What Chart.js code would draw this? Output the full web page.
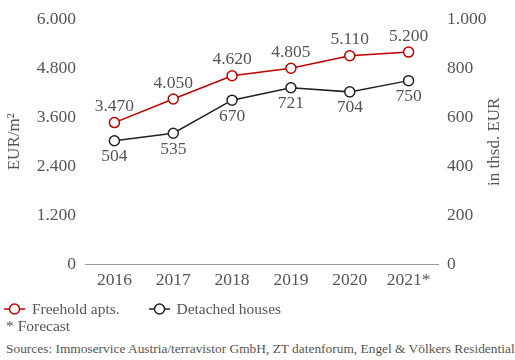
<!DOCTYPE html>
<html>
<head>
<meta charset="utf-8">
<script src="https://cdn.jsdelivr.net/npm/chart.js@4"></script>
<style>
    body { margin: 0; background: #fff; font-family: "Liberation Serif", serif; color: #555; }
    #wrap { position: relative; width: 515px; height: 360px; }
    #chart-box { position: absolute; left: 0; top: 0; width: 515px; height: 300px; }
    .legend { position: absolute; top: 299px; left: 4px; font-size: 15.5px; white-space: nowrap; }
    .legend span { display: inline-block; vertical-align: middle; }
    .legend svg { vertical-align: middle; }
    .note { position: absolute; top: 317px; left: 6px; font-size: 15.5px; }
    .sources { position: absolute; top: 341px; left: 6px; font-size: 13.4px; white-space: nowrap; }
</style>
</head>
<body>
<div id="wrap">
    <div id="chart-box"><canvas id="price-chart" width="515" height="300"></canvas></div>
    <div class="legend">
        <svg width="21" height="12"><line x1="0" y1="6" x2="21" y2="6" stroke="#c00000" stroke-width="1.5"/><circle cx="10.5" cy="6" r="5" fill="#fff" stroke="#c00000" stroke-width="1.5"/></svg>
        <span style="margin-left:3px">Freehold apts.</span>
        <svg width="21" height="12" style="margin-left:25px"><line x1="0" y1="6" x2="21" y2="6" stroke="#222" stroke-width="1.5"/><circle cx="10.5" cy="6" r="5" fill="#fff" stroke="#222" stroke-width="1.5"/></svg>
        <span style="margin-left:3px">Detached houses</span>
    </div>
    <div class="note">* Forecast</div>
    <div class="sources">Sources: Immoservice Austria/terravistor GmbH, ZT datenforum, Engel &amp; Völkers Residential</div>
</div>
<script>
const years = ['2016', '2017', '2018', '2019', '2020', '2021*'];
const freeholdApts = [3470, 4050, 4620, 4805, 5110, 5200];   // EUR/m², left axis
const detachedHouses = [504, 535, 670, 721, 704, 750];       // thsd. EUR, right axis
const leftTicks = [0, 1200, 2400, 3600, 4800, 6000];
const rightTicks = [0, 200, 400, 600, 800, 1000];

const textColor = '#555';
const fontFamily = '"Liberation Serif", serif';

function fmt(v) {
    return v.toString().replace(/\B(?=(\d{3})+(?!\d))/g, '.');
}

// value labels above the red line, below the black one
const valueLabels = {
    id: 'valueLabels',
    afterDatasetsDraw(chart) {
        const ctx = chart.ctx;
        ctx.save();
        ctx.font = '17.5px ' + fontFamily;
        ctx.fillStyle = textColor;
        ctx.textAlign = 'center';
        ctx.textBaseline = 'middle';
        chart.data.datasets.forEach((ds, i) => {
            const meta = chart.getDatasetMeta(i);
            meta.data.forEach((pt, j) => {
                const dy = ds.labelAbove ? -16 : 16;
                ctx.fillText(fmt(ds.data[j]), pt.x, pt.y + dy);
            });
        });
        ctx.restore();
    }
};

// axis titles, both read bottom to top
const axisTitles = {
    id: 'axisTitles',
    afterDraw(chart) {
        const ctx = chart.ctx;
        const mid = (chart.chartArea.top + chart.chartArea.bottom) / 2;
        ctx.save();
        ctx.font = '17px ' + fontFamily;
        ctx.fillStyle = textColor;
        ctx.textAlign = 'center';
        ctx.textBaseline = 'middle';
        [[15, 'EUR/m²'], [495, 'in thsd. EUR']].forEach(([x, txt]) => {
            ctx.save();
            ctx.translate(x, mid);
            ctx.rotate(-Math.PI / 2);
            ctx.fillText(txt, 0, 0);
            ctx.restore();
        });
        ctx.restore();
    }
};

new Chart(document.getElementById('price-chart'), {
    type: 'line',
    data: {
        labels: years,
        datasets: [{
            label: 'Freehold apts.',
            data: freeholdApts,
            yAxisID: 'y',
            labelAbove: true,
            borderColor: '#c00000',
            backgroundColor: '#fff',
            borderWidth: 1.5,
            pointRadius: 5,
            pointBorderWidth: 1.5,
            pointBackgroundColor: '#fff',
            tension: 0
        }, {
            label: 'Detached houses',
            data: detachedHouses,
            yAxisID: 'y2',
            labelAbove: false,
            borderColor: '#222',
            backgroundColor: '#fff',
            borderWidth: 1.5,
            pointRadius: 5,
            pointBorderWidth: 1.5,
            pointBackgroundColor: '#fff',
            tension: 0
        }]
    },
    options: {
        responsive: false,
        animation: false,
        layout: { padding: { top: 19, right: 0, left: 0, bottom: 0 } },
        plugins: {
            legend: { display: false },
            tooltip: { enabled: false }
        },
        scales: {
            x: {
                offset: true,
                grid: { display: false, drawTicks: false },
                border: { display: true, color: '#999', width: 1 },
                ticks: { color: textColor, padding: 6, font: { family: fontFamily, size: 17.5 } },
                afterFit(scale) { scale.height = 36; }
            },
            y: {
                position: 'left',
                min: 0,
                max: 6000,
                afterBuildTicks(scale) { scale.ticks = leftTicks.map(v => ({ value: v })); },
                grid: { display: false, drawTicks: false },
                border: { display: false },
                ticks: { color: textColor, padding: 9, font: { family: fontFamily, size: 17.5 }, callback: v => fmt(v) },
                afterFit(scale) { scale.width = 85; }
            },
            y2: {
                position: 'right',
                min: 0,
                max: 1000,
                afterBuildTicks(scale) { scale.ticks = rightTicks.map(v => ({ value: v })); },
                grid: { display: false, drawTicks: false },
                border: { display: false },
                ticks: { color: textColor, padding: 9, font: { family: fontFamily, size: 17.5 }, callback: v => fmt(v) },
                afterFit(scale) { scale.width = 77; }
            }
        }
    },
    plugins: [valueLabels, axisTitles]
});
</script>
</body>
</html>
